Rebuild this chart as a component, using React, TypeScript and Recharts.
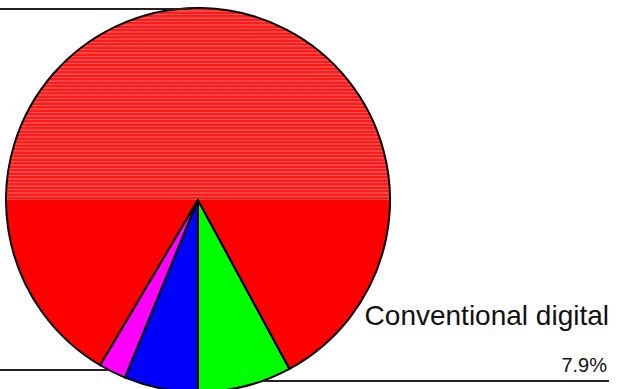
import { PieChart, Pie, Cell } from "recharts"

const sliceNames = ["Conventional digital", "Other", "Hybrid", "Analog"]
const sliceValues = [7.9, 83.6, 2.3, 6.2]
const sliceColors = ["#00ff00", "url(#redFill)", "#ff00ff", "#0000ff"]

const data = sliceNames.map((name, i) => ({ name, value: sliceValues[i] }))

const FONT = "'Liberation Sans', Arial, sans-serif"

// leader lines leave the slices horizontally, like the spreadsheet original
// eslint-disable-next-line @typescript-eslint/no-explicit-any
function renderLabel(props: any) {
  const { cx, cy, outerRadius, index } = props
  const edgeX = (y: number, side: number) =>
    cx + side * Math.sqrt(Math.max(0, outerRadius * outerRadius - (y - cy) * (y - cy)))

  if (index === 0) {
    const y = cy + 181
    const right = 609
    return (
      <g>
        <line x1={edgeX(y, 1)} y1={y} x2={right} y2={y} stroke="#222" strokeWidth={2} />
        <text x={right} y={cy + 125} textAnchor="end" fontFamily={FONT} fontSize={28} fill="#111">
          {sliceNames[0]}
        </text>
        <text x={right - 2} y={cy + 172} textAnchor="end" fontFamily={FONT} fontSize={20} fill="#111">
          {`${sliceValues[0].toFixed(1)}%`}
        </text>
      </g>
    )
  }
  if (index === 1) {
    const y = cy - outerRadius + 1
    return <line x1={0} y1={y} x2={cx - 8} y2={y} stroke="#222" strokeWidth={2} />
  }
  if (index === 2) {
    const y = cy + 170
    return <line x1={0} y1={y} x2={edgeX(y, -1)} y2={y} stroke="#222" strokeWidth={2} />
  }
  return <g />
}

export default function App() {
  return (
    <div style={{ position: "absolute", left: 0, top: 0, width: 617, height: 389, background: "#fff" }}>
      <PieChart width={617} height={389} margin={{ top: 0, right: 0, bottom: 0, left: 0 }}>
        <defs>
          <pattern id="redStripes" patternUnits="userSpaceOnUse" width={40} height={7}>
            <rect x={0} y={0} width={40} height={7} fill="#ff1a1a" />
            <rect x={0} y={0} width={40} height={1} fill="#ff5a5a" />
            <rect x={0} y={3} width={40} height={2} fill="#ff4444" />
          </pattern>
          <pattern id="redFill" patternUnits="userSpaceOnUse" x={0} y={0} width={617} height={400}>
            <rect x={0} y={0} width={617} height={400} fill="#ff0000" />
            <rect x={0} y={0} width={617} height={200} fill="url(#redStripes)" />
          </pattern>
        </defs>
        <Pie
          data={data}
          dataKey="value"
          nameKey="name"
          cx={198}
          cy={200}
          outerRadius={192}
          startAngle={270}
          endAngle={630}
          stroke="#000"
          strokeWidth={2}
          label={renderLabel}
          labelLine={false}
          isAnimationActive={false}
        >
          {data.map((d, i) => (
            <Cell key={d.name} fill={sliceColors[i]} />
          ))}
        </Pie>
      </PieChart>
    </div>
  )
}
